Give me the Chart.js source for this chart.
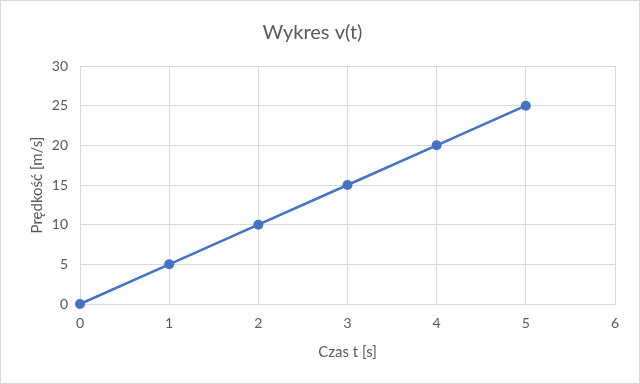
<!DOCTYPE html>
<html>
<head>
<meta charset="utf-8">
<script src="https://cdn.jsdelivr.net/npm/chart.js@4"></script>
<style>
  html, body { margin: 0; padding: 0; background: #fff; }
  #wrap { width: 640px; height: 384px; }
</style>
</head>
<body>
<div id="wrap"><canvas id="c" width="640" height="384"></canvas></div>
<script>
// dane
const czas = [0, 1, 2, 3, 4, 5];
const predkosc = [0, 5, 10, 15, 20, 25];

const TEXT = '#595959';
const GRID = '#d9d9d9';
const BLUE = '#4472c4';
const FONT = 'Lato, "Open Sans", sans-serif';

// white background + thin frame round the whole chart
const frame = {
  id: 'frame',
  beforeDraw(chart) {
    const ctx = chart.ctx;
    ctx.save();
    ctx.fillStyle = '#fff';
    ctx.fillRect(0, 0, chart.width, chart.height);
    ctx.strokeStyle = GRID;
    ctx.lineWidth = 1;
    ctx.strokeRect(0.5, 0.5, chart.width - 1, chart.height - 1);
    ctx.restore();
  }
};

new Chart(document.getElementById('c'), {
  type: 'scatter',
  data: {
    datasets: [{
      label: 'v(t)',
      data: czas.map((t, i) => ({ x: t, y: predkosc[i] })),
      showLine: true,
      clip: false,
      borderColor: BLUE,
      backgroundColor: BLUE,
      borderWidth: 2.5,
      pointRadius: 5,
      pointBorderWidth: 0
    }]
  },
  options: {
    responsive: false,
    animation: false,
    layout: { padding: { left: 10, right: 25, top: 10, bottom: 10 } },
    plugins: {
      legend: { display: false },
      tooltip: { enabled: false },
      title: {
        display: true,
        text: 'Wykres v(t)',
        color: TEXT,
        font: { family: FONT, size: 20, weight: 'normal' },
        padding: { top: 11, bottom: 21 }
      }
    },
    scales: {
      x: {
        type: 'linear',
        min: 0,
        max: 6,
        ticks: { stepSize: 1, color: TEXT, padding: 11, font: { family: FONT, size: 14 } },
        grid: { color: GRID, drawTicks: false },
        border: { color: GRID },
        title: {
          display: true,
          text: 'Czas t [s]',
          color: TEXT,
          font: { family: FONT, size: 15 },
          padding: { top: 0, bottom: 13 }
        },
        afterFit(scale) { scale.height = 70; }
      },
      y: {
        min: 0,
        max: 30,
        ticks: { stepSize: 5, color: TEXT, padding: 12, font: { family: FONT, size: 14 } },
        grid: { color: GRID, drawTicks: false },
        border: { display: false },
        title: {
          display: true,
          text: 'Prędkość [m/s]',
          color: TEXT,
          font: { family: FONT, size: 15 },
          padding: { top: 18, bottom: 0 }
        },
        afterFit(scale) { scale.width = 70; }
      }
    }
  },
  plugins: [frame]
});
</script>
</body>
</html>
